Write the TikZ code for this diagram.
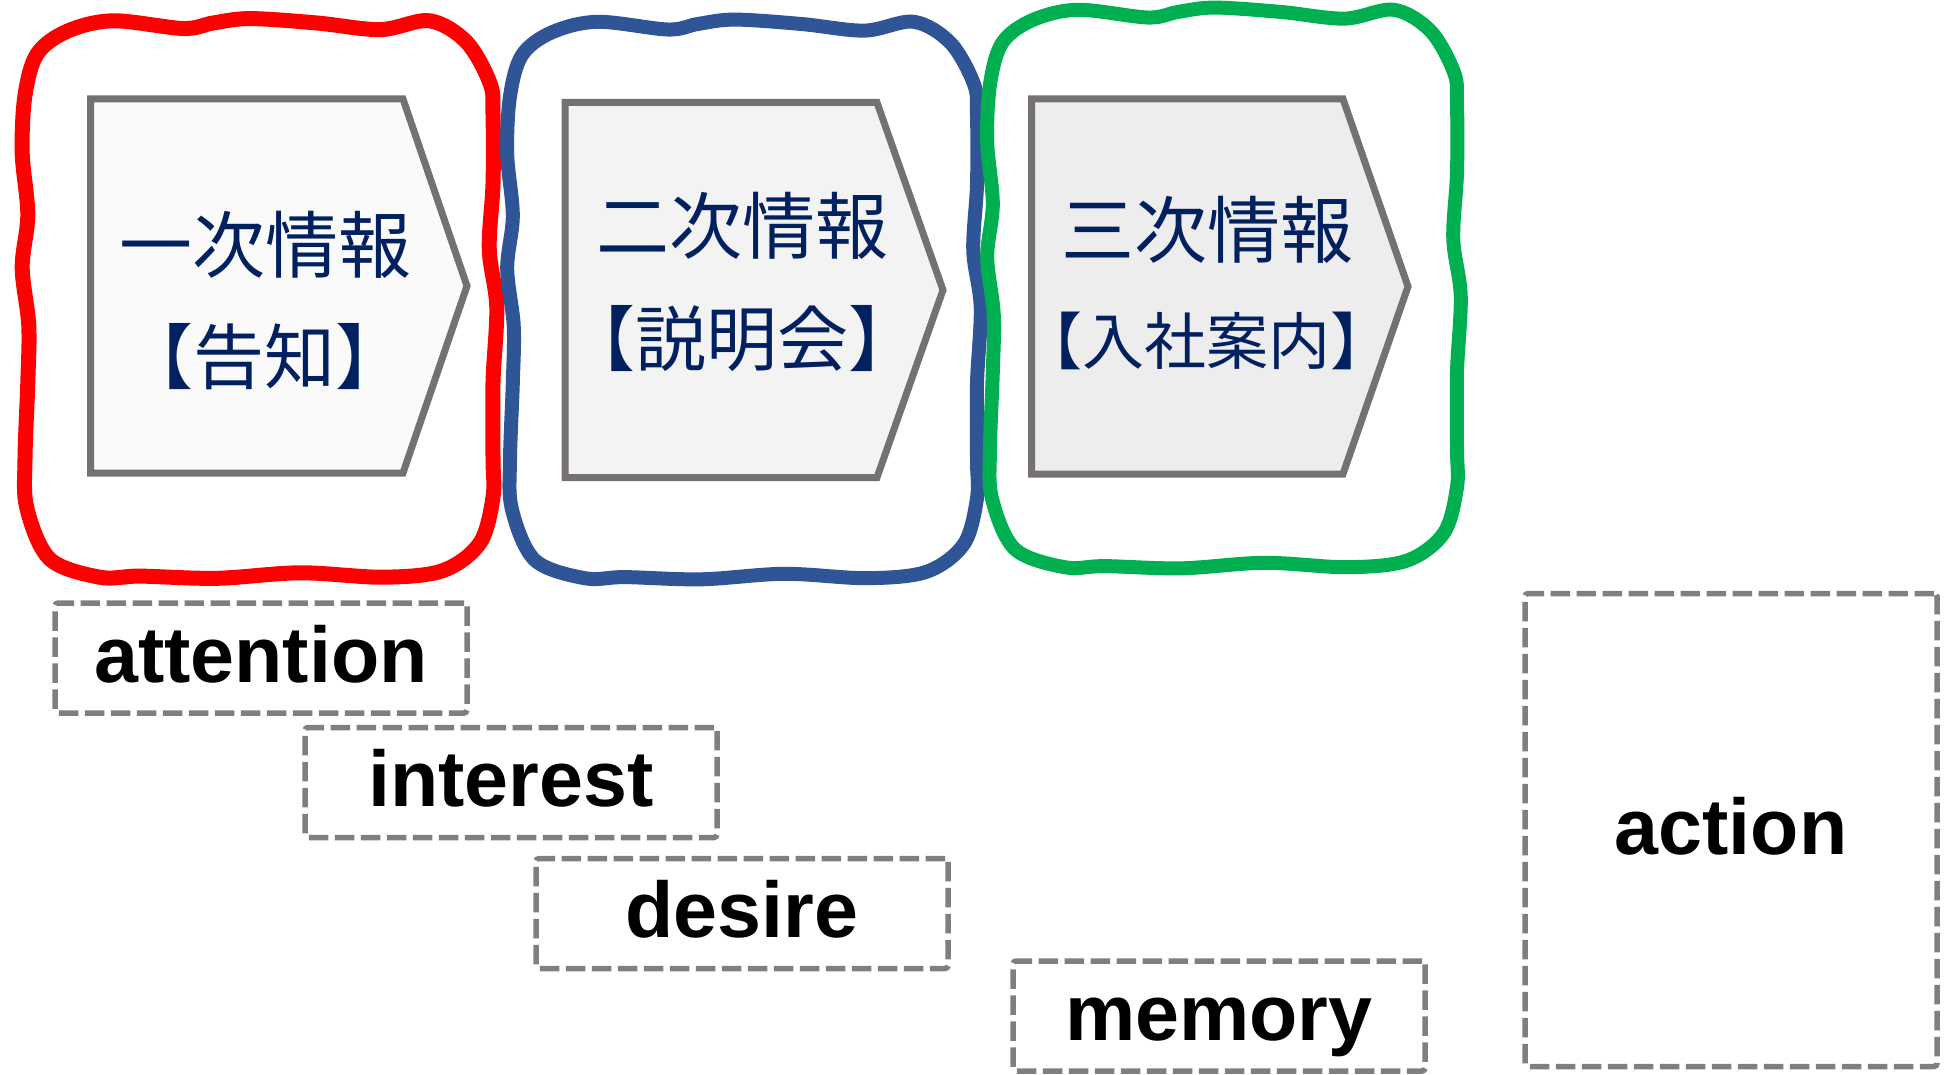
\documentclass[tikz,border=0pt]{standalone}
\usepackage{fontspec}
\setmainfont{Liberation Sans}
\newfontfamily\jpfont{Noto Sans CJK JP}
\definecolor{navy}{HTML}{002060}
\definecolor{dgray}{HTML}{7F7F7F}
\definecolor{plategray}{HTML}{767171}
\definecolor{fillA}{HTML}{FAFAFA}
\definecolor{fillB}{HTML}{F3F3F3}
\definecolor{fillC}{HTML}{EDEDED}
\definecolor{fred}{HTML}{FF0000}
\definecolor{fblue}{HTML}{2F5597}
\definecolor{fgreen}{HTML}{00B050}
\newcommand{\wavyframe}[6]{%
  \draw[draw=#5, line width=#6, line join=round, shift={(#1,#2)}, x=#3pt, y=-#4pt]
    plot[smooth cycle, tension=0.55] coordinates {
      (0.090,0.015) (0.188,-0.004) (0.338,0.010) (0.402,0.000) (0.481,-0.008)
      (0.624,0.000) (0.759,0.012) (0.865,-0.004) (0.944,0.035) (0.994,0.110)
      (1.000,0.166) (1.000,0.291) (0.992,0.410) (1.008,0.514) (1.000,0.651)
      (1.000,0.790) (1.000,0.859) (0.972,0.942) (0.893,0.992) (0.765,1.004)
      (0.588,0.996) (0.410,1.006) (0.246,1.002) (0.160,1.004) (0.053,0.971)
      (0.004,0.879) (0.000,0.790) (0.006,0.651) (0.008,0.547) (-0.006,0.443)
      (0.006,0.347) (-0.006,0.235) (0.000,0.131) (0.026,0.056)};}
\begin{document}
\begin{tikzpicture}[x=1pt,y=-1pt,
  dbox/.style={draw=dgray, line width=5.5pt, dash pattern=on 19.5pt off 6.5pt,
    rounded corners=3pt, minimum width=412pt, minimum height=110pt, inner sep=0pt,
    font=\fontsize{79}{90}\selectfont\bfseries, text height=56pt, text depth=8pt},
  plate/.style={draw=plategray, line width=7pt, line join=miter},
  jp/.style={text=navy, inner sep=0pt, anchor=base},
  jpbig/.style={jp, font=\jpfont\fontsize{73}{80}\selectfont},
  jpmid/.style={jp, font=\jpfont\fontsize{71}{78}\selectfont},
  jpsmall/.style={jp, font=\jpfont\fontsize{62}{72}\selectfont}]
\useasboundingbox (0,0) rectangle (1955,1075);
% wavy frames
\wavyframe{25}{23}{468}{552}{fred}{15pt}
\wavyframe{510}{24}{467}{552}{fblue}{14pt}
\wavyframe{990}{12}{467}{553}{fgreen}{14pt}
% plates
\draw[plate, fill=fillA] (90.7,99) -- (403,99) -- (467,286) -- (403,473) -- (90.7,473) -- cycle;
\draw[plate, fill=fillB] (565,102.5) -- (877,102.5) -- (943,290) -- (877,477.5) -- (565,477.5) -- cycle;
\draw[plate, fill=fillC] (1031.5,99) -- (1343,99) -- (1408,286.5) -- (1343,474) -- (1031.5,474) -- cycle;
% plate texts
\node[jpbig] (p1a) at (265,273) {一次情報};
\node[jpmid] (p1b) at (264,383) {【告知】};
\node[jpbig] (p2a) at (742.5,254) {二次情報};
\node[jpmid] (p2b) at (741.5,366) {【説明会】};
\node[jpbig] (p3a) at (1207,258) {三次情報};
\node[jpsmall] (p3b) at (1206,364) {【入社案内】};
% AIDMA boxes
\node[dbox] (attention) at (261,658) {attention};
\node[dbox] (interest) at (511,782.5) {interest};
\node[dbox] (desire) at (742,913.5) {desire};
\node[dbox] (memory) at (1219,1016) {memory};
\node[dbox, minimum height=473pt] (action) at (1731,830) {action};
\end{tikzpicture}
\end{document}
